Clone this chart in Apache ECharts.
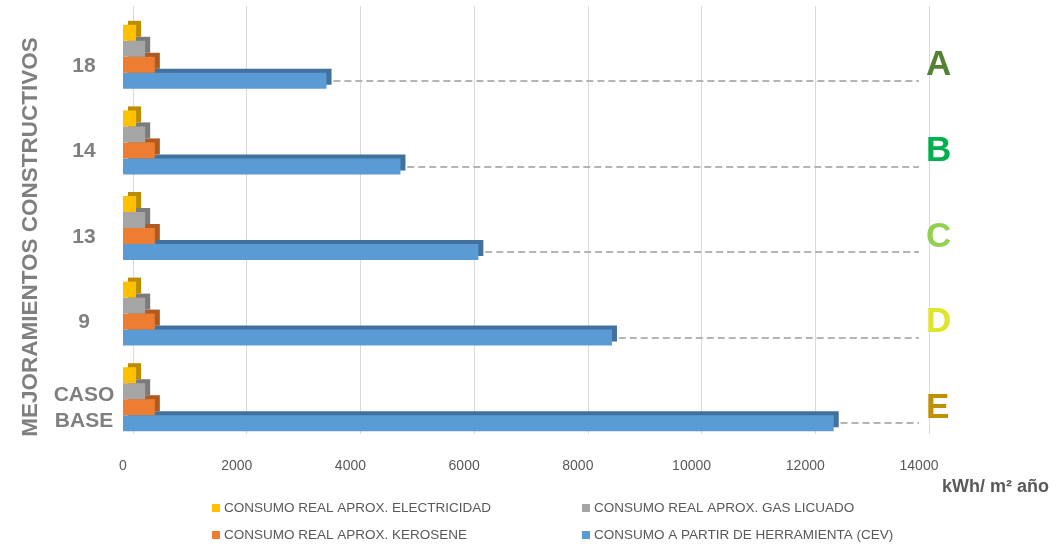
<!DOCTYPE html>
<html>
<head>
<meta charset="utf-8">
<style>
  html, body { margin: 0; padding: 0; background: #fff; }
  #chart { width: 1061px; height: 544px; }
</style>
<script src="https://cdn.jsdelivr.net/npm/echarts@6/dist/echarts.min.js"></script>
</head>
<body>
<div id="chart"></div>
<script>
// categories bottom -> top
const categories = ['CASO\nBASE', '9', '13', '14', '18'];
const grades = ['E', 'D', 'C', 'B', 'A'];
const gradeColors = ['#bf9000', '#dfe42c', '#92d050', '#00b050', '#548235'];

const cev = [12500, 8600, 6250, 4880, 3580];
const kerosene = [560, 560, 560, 560, 560];
const gas = [390, 390, 390, 390, 390];
const electricidad = [230, 230, 230, 230, 230];

const xTicks = [0, 2000, 4000, 6000, 8000, 10000, 12000, 14000];

const font = 'Liberation Sans, Arial, sans-serif';
const grey = '#7f7f7f';

const chart = echarts.init(document.getElementById('chart'));

// flat bars, the darker hard shadow fakes the 3D top and side faces
const bar = (name, data, color, shade, z) => ({
  name,
  type: 'bar',
  data,
  barWidth: 16,
  barGap: '0%',
  z,
  itemStyle: {
    color,
    shadowColor: shade,
    shadowBlur: 0,
    shadowOffsetX: 5,
    shadowOffsetY: -4
  }
});

const cevSeries = bar('CONSUMO A PARTIR DE HERRAMIENTA (CEV)', cev, '#5b9bd5', '#41719c', 2);
cevSeries.markLine = {
  symbol: 'none',
  silent: true,
  label: { show: false },
  lineStyle: { color: '#b4b4b4', type: [7, 4], width: 2 },
  data: cev.map((v, i) => [
    { coord: [v + 120, i] },
    { coord: [xTicks[xTicks.length - 1], i] }
  ])
};

const legendItem = (name, left, top) => ({
  data: [name],
  left,
  top,
  icon: 'rect',
  itemWidth: 8,
  itemHeight: 8,
  itemGap: 0,
  selectedMode: false,
  textStyle: { color: '#595959', fontSize: 13.5, fontFamily: font, padding: [0, 0, 0, -1] }
});

const hiddenValueAxis = (gridIndex) => ({
  type: 'value', gridIndex, min: 0, max: 14000, interval: 2000, show: false
});

chart.setOption({
  backgroundColor: '#fff',
  animation: false,
  title: {
    text: 'kWh/ m² año',
    left: 937,
    top: 473,
    textStyle: { color: '#595959', fontSize: 18, fontWeight: 'bold', fontFamily: font }
  },
  legend: [
    legendItem('CONSUMO REAL APROX. ELECTRICIDAD', 207, 496),
    legendItem('CONSUMO REAL APROX. GAS LICUADO', 577, 496),
    legendItem('CONSUMO REAL APROX. KEROSENE', 207, 523),
    legendItem('CONSUMO A PARTIR DE HERRAMIENTA (CEV)', 577, 523)
  ],
  grid: [
    { left: 123, right: 142, top: 14, bottom: 102 },
    { left: 133, right: 132, top: 6, bottom: 110 },
    { left: 122, right: 143, top: 23, bottom: 93 }
  ],
  xAxis: [
    {
      type: 'value',
      gridIndex: 0,
      min: 0,
      max: 14000,
      interval: 2000,
      axisLine: { show: false },
      axisTick: { show: false },
      splitLine: { show: false },
      axisLabel: {
        color: '#595959', fontSize: 14, fontFamily: font, margin: 17,
        formatter: (v) => String(v)
      }
    },
    {
      type: 'value',
      gridIndex: 1,
      min: 0,
      max: 14000,
      interval: 2000,
      axisLine: { show: false },
      axisTick: { show: false },
      axisLabel: { show: false },
      splitLine: { lineStyle: { color: '#d9d9d9', width: 1 } }
    },
    hiddenValueAxis(2)
  ],
  yAxis: [
    {
      type: 'category',
      gridIndex: 0,
      data: categories,
      show: false
    },
    {
      type: 'category',
      gridIndex: 1,
      data: categories,
      show: false
    },
    {
      type: 'category',
      gridIndex: 2,
      data: categories,
      axisLine: { show: false },
      axisTick: { show: false },
      axisLabel: {
        color: grey,
        fontSize: 21,
        fontWeight: 'bold',
        fontFamily: font,
        align: 'center',
        margin: 38,
        lineHeight: 26
      },
      name: 'MEJORAMIENTOS CONSTRUCTIVOS',
      nameLocation: 'middle',
      nameRotate: 90,
      nameGap: 80,
      nameTextStyle: { color: grey, fontSize: 22.5, fontWeight: 'bold', fontFamily: font }
    },
    {
      type: 'category',
      gridIndex: 2,
      position: 'right',
      data: grades,
      axisLine: { show: false },
      axisTick: { show: false },
      axisLabel: {
        color: (v, i) => gradeColors[i],
        fontSize: 35,
        fontWeight: 'bold',
        fontFamily: font,
        align: 'left',
        margin: 8
      }
    }
  ],
  series: [
    bar('CONSUMO REAL APROX. ELECTRICIDAD', electricidad, '#ffc000', '#bc8c00', 5),
    bar('CONSUMO REAL APROX. GAS LICUADO', gas, '#a5a5a5', '#7b7b7b', 4),
    bar('CONSUMO REAL APROX. KEROSENE', kerosene, '#ed7d31', '#ae5a21', 3),
    cevSeries
  ]
});
</script>
</body>
</html>
